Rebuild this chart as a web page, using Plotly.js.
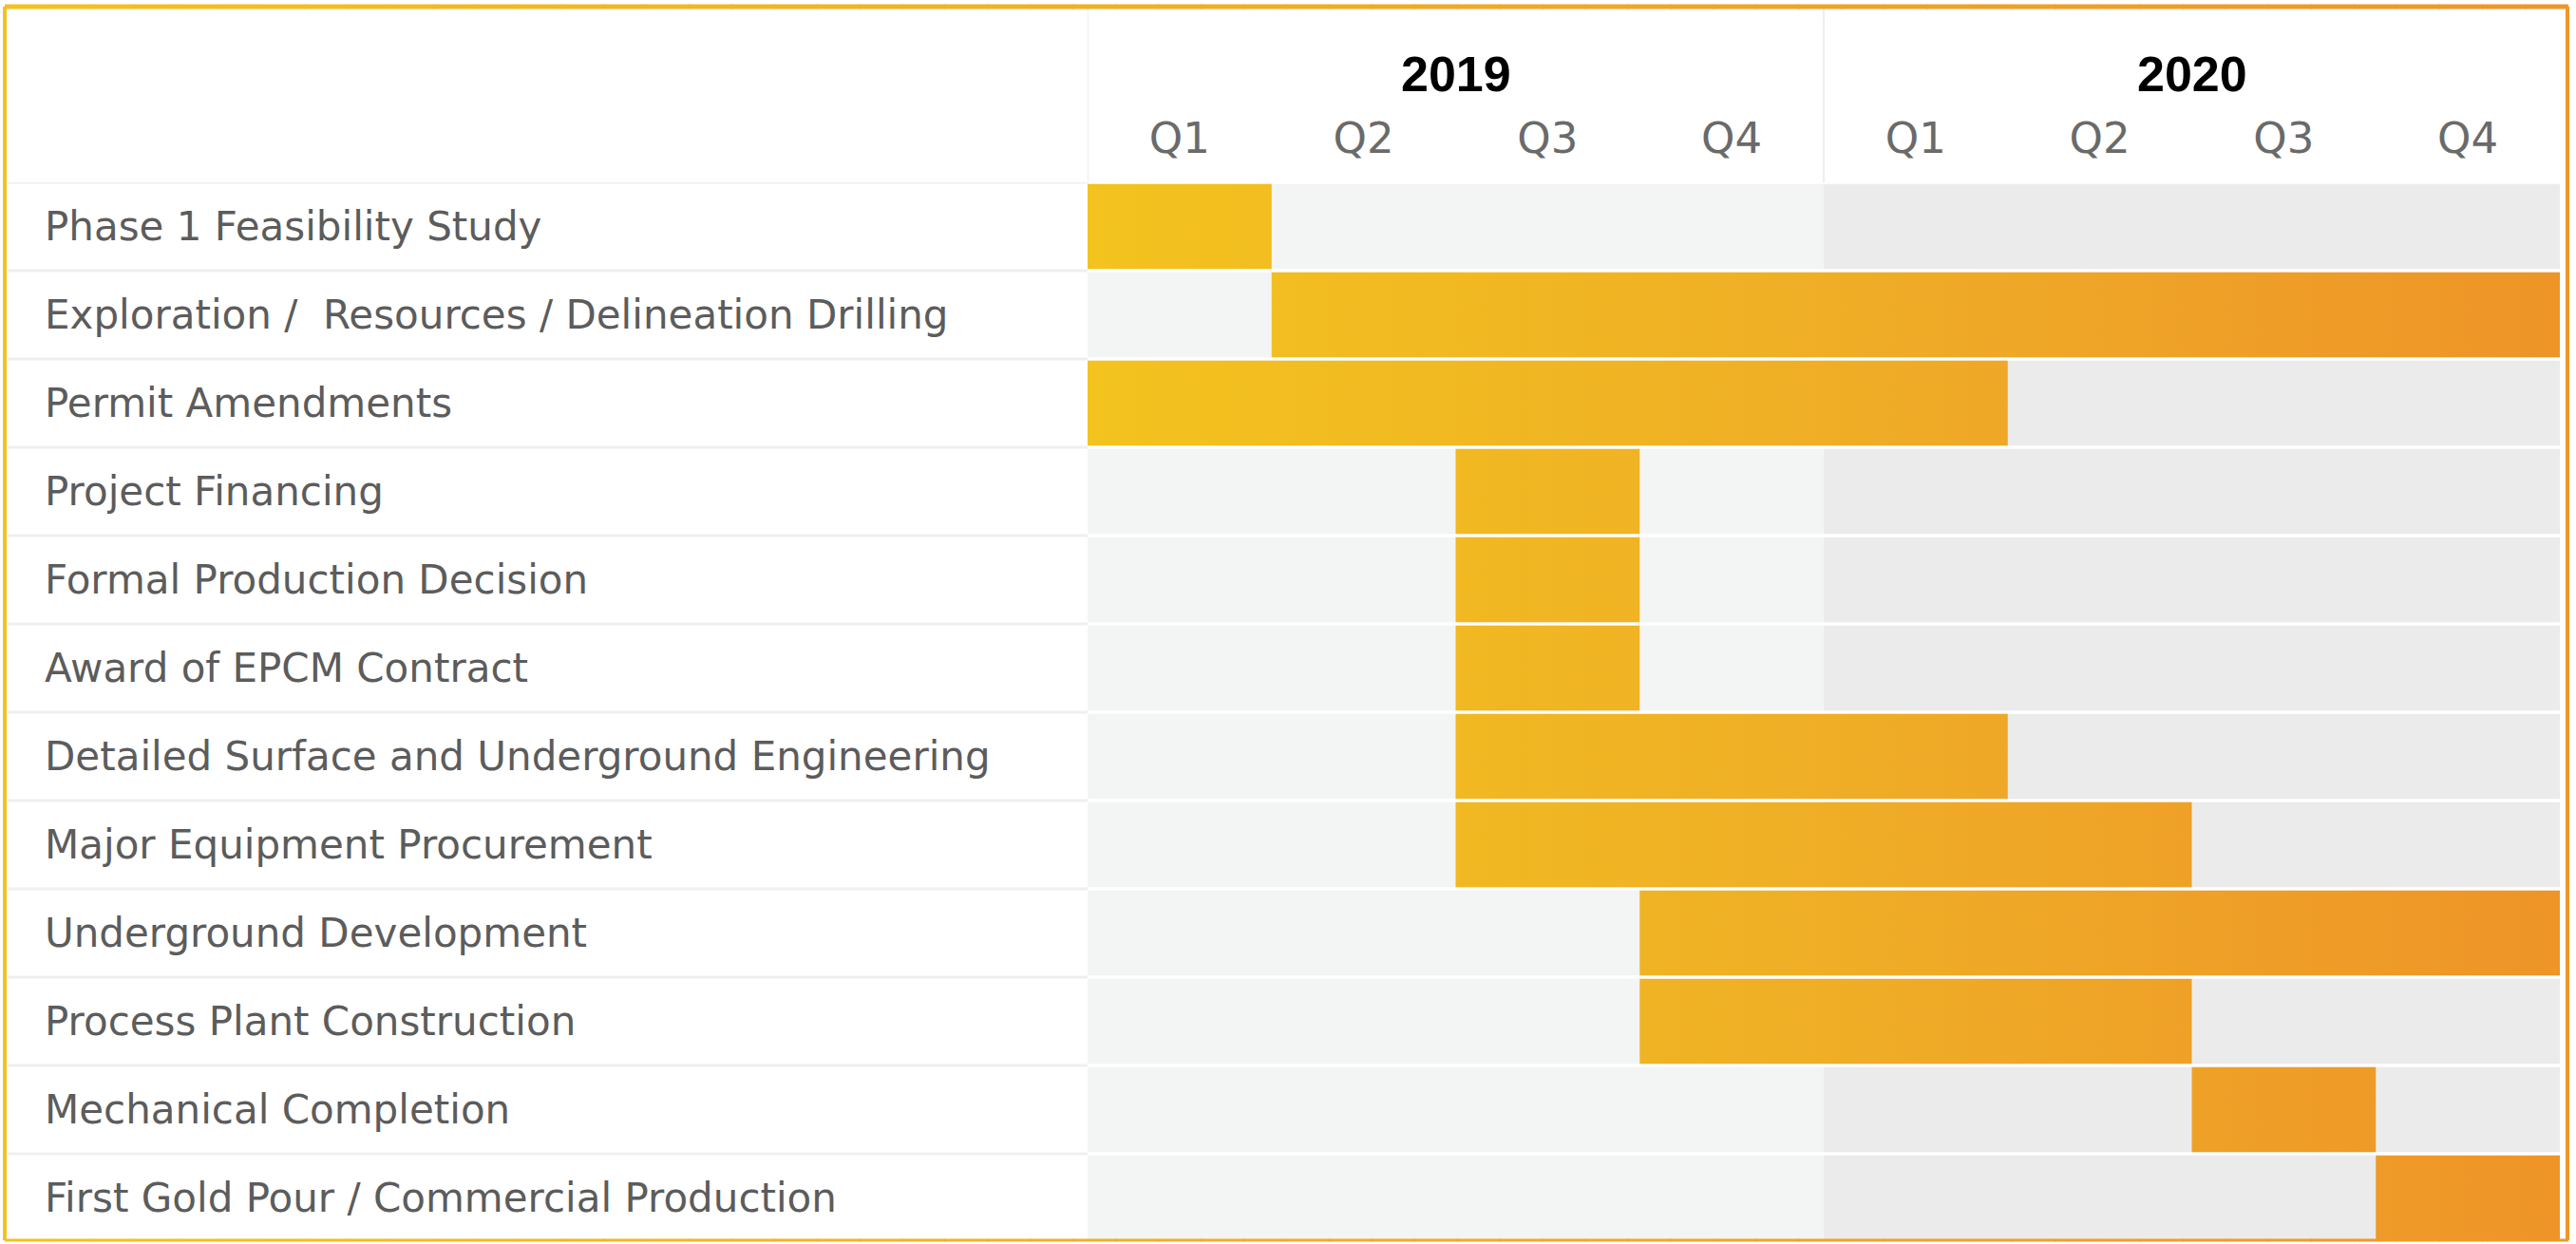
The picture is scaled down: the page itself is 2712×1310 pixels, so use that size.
<!DOCTYPE html>
<html><head><meta charset="utf-8">
<script src="https://cdn.plot.ly/plotly-3.0.1.min.js"></script>
<style>html,body{margin:0;padding:0;background:#fff;} #chart{width:2712px;height:1310px;}</style>
</head><body><div id="chart"></div>
<script>
// ---- data ----
const tasks = [
  "Phase 1 Feasibility Study",
  "Exploration /  Resources / Delineation Drilling",
  "Permit Amendments",
  "Project Financing",
  "Formal Production Decision",
  "Award of EPCM Contract",
  "Detailed Surface and Underground Engineering",
  "Major Equipment Procurement",
  "Underground Development",
  "Process Plant Construction",
  "Mechanical Completion",
  "First Gold Pour / Commercial Production"
];
// quarter index: 0 = 2019 Q1 ... 7 = 2020 Q4 (start inclusive, end exclusive)
const startQuarter = [0, 1, 0, 2, 2, 2, 2, 2, 3, 3, 6, 7];
const endQuarter   = [1, 8, 5, 3, 3, 3, 5, 6, 8, 6, 7, 8];
const years = ["2019", "2020"];
const quarterLabels = ["Q1", "Q2", "Q3", "Q4", "Q1", "Q2", "Q3", "Q4"];

// ---- layout geometry ----
const W = 2712, H = 1310;
const L = 1145, R = 17, T = 192, B = 2;
const PW = W - L - R, PH = H - T - B;
const nQ = quarterLabels.length;
const qPerYear = nQ / years.length;
const half = 0.48;
const px = v => (v - L) / PW;          // pixel x -> paper x
const py = v => (H - B - v) / PH;      // pixel y -> paper y

const gold = [243, 194, 30], orange = [239, 150, 40];
const mix = t => 'rgb(' + gold.map((g, k) => Math.round(g + (orange[k] - g) * t)).join(',') + ')';
const barScale = [[0, '#F3C31E'], [0.5, '#EFAE26'], [1, '#EE9428']];

// ---- traces: one filled polygon per task ----
const traces = tasks.map((name, i) => ({
  type: 'scatter', mode: 'lines', name: name,
  x: [startQuarter[i], endQuarter[i], endQuarter[i], startQuarter[i], startQuarter[i]],
  y: [i - half, i - half, i + half, i + half, i - half],
  fill: 'toself',
  fillgradient: {type: 'horizontal', colorscale: barScale, start: 0, stop: nQ},
  line: {width: 0}, hoverinfo: 'skip', showlegend: false
}));

// ---- shapes ----
const shapes = [];
tasks.forEach((t, i) => {
  shapes.push({type: 'rect', layer: 'below', xref: 'x', yref: 'y', x0: 0, x1: qPerYear, y0: i - half, y1: i + half, fillcolor: '#F3F4F4', line: {width: 0}});
  shapes.push({type: 'rect', layer: 'below', xref: 'x', yref: 'y', x0: qPerYear, x1: nQ, y0: i - half, y1: i + half, fillcolor: '#EBEBEB', line: {width: 0}});
  // label column separator
  shapes.push({type: 'line', xref: 'paper', yref: 'y', x0: px(8), x1: 0, y0: i - 0.5, y1: i - 0.5, line: {color: '#EFEFEF', width: 3}});
});
// header vertical separators
for (let k = 0; k < years.length; k++) {
  shapes.push({type: 'line', xref: 'x', yref: 'paper', x0: k * qPerYear, x1: k * qPerYear, y0: 1, y1: py(9), line: {color: '#EEEEEE', width: 2}});
}
// outer frame (gradient gold -> orange)
const N = 60, fx0 = 5, fx1 = 2703, fy0 = 7, fy1 = 1306;
for (let s = 0; s < N; s++) {
  const a = fx0 + (fx1 - fx0) * s / N, b = fx0 + (fx1 - fx0) * (s + 1) / N;
  const c = mix((s + 0.5) / N);
  shapes.push({type: 'line', xref: 'paper', yref: 'paper', x0: px(a), x1: px(b + 1), y0: py(fy0), y1: py(fy0), line: {color: c, width: 5}});
  shapes.push({type: 'line', xref: 'paper', yref: 'paper', x0: px(a), x1: px(b + 1), y0: py(fy1), y1: py(fy1), line: {color: c, width: 3}});
}
shapes.push({type: 'line', xref: 'paper', yref: 'paper', x0: px(fx0), x1: px(fx0), y0: py(fy0), y1: py(fy1), line: {color: mix(0), width: 4}});
shapes.push({type: 'line', xref: 'paper', yref: 'paper', x0: px(fx1), x1: px(fx1), y0: py(fy0), y1: py(fy1), line: {color: mix(1), width: 4}});

// ---- annotations ----
const annotations = [];
tasks.forEach((t, i) => {
  annotations.push({xref: 'paper', yref: 'y', x: px(45), y: i, xanchor: 'left', yanchor: 'middle',
    text: t.replace(/  /g, ' \u00a0'), showarrow: false,
    font: {family: '"DejaVu Sans", "Open Sans", sans-serif', size: 42, color: '#5C5C5C'}});
});
years.forEach((yr, k) => {
  annotations.push({xref: 'x', yref: 'paper', x: k * qPerYear + qPerYear / 2, y: py(78), xanchor: 'center', yanchor: 'middle',
    text: '<b>' + yr + '</b>', showarrow: false,
    font: {family: '"Liberation Sans Narrow", "Liberation Sans", Arial, sans-serif', size: 52, color: '#000000'}});
});

const layout = {
  width: W, height: H,
  margin: {l: L, r: R, t: T, b: B, pad: 0},
  paper_bgcolor: '#FFFFFF', plot_bgcolor: '#FFFFFF',
  showlegend: false,
  xaxis: {range: [0, nQ], side: 'top', showgrid: false, zeroline: false, showline: false,
    tickmode: 'array', tickvals: quarterLabels.map((q, i) => i + 0.5), ticktext: quarterLabels,
    ticks: '', ticklabelstandoff: 21,
    tickfont: {family: '"DejaVu Sans", "Open Sans", sans-serif', size: 45, color: '#6A6A6A'}, fixedrange: true},
  yaxis: {range: [tasks.length - 0.5, -0.5], showgrid: false, zeroline: false, showline: false,
    showticklabels: false, ticks: '', fixedrange: true},
  shapes: shapes, annotations: annotations
};

Plotly.newPlot('chart', traces, layout, {displayModeBar: false, staticPlot: true});
</script></body></html>
